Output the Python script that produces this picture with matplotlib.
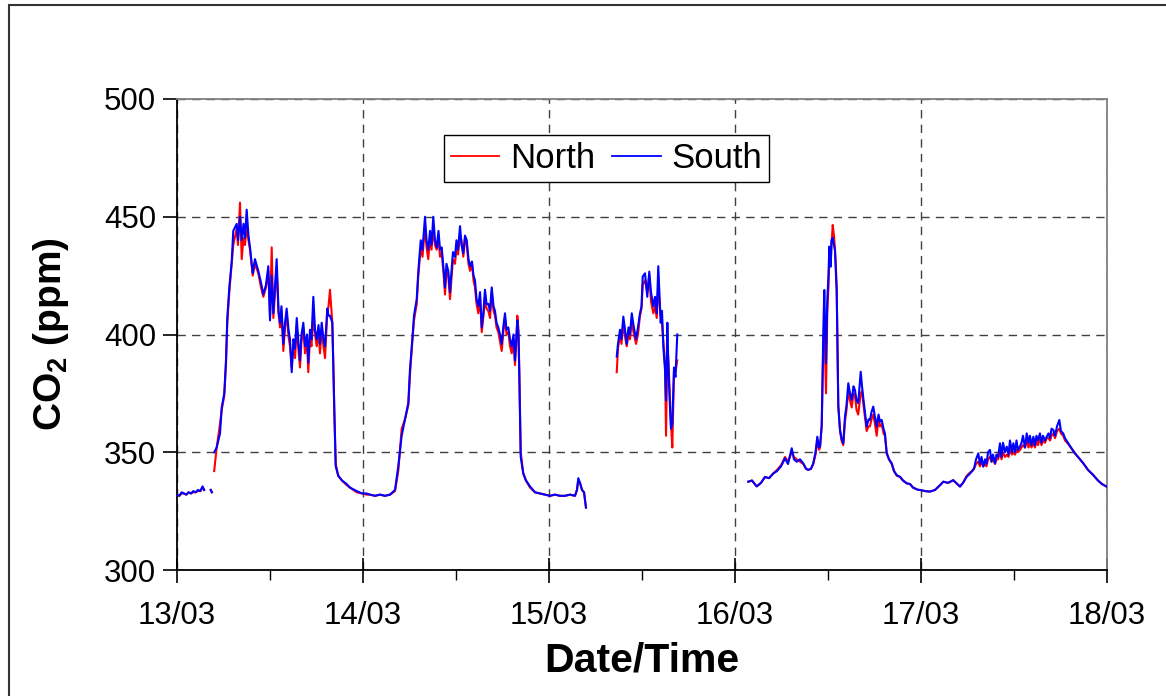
import numpy as np
import matplotlib
matplotlib.use("Agg")
import matplotlib.pyplot as plt
from matplotlib.patches import Rectangle
from matplotlib.ticker import MultipleLocator

nan = float("nan")

# time in hours since 13/03 00:00
hours = [
    0.0, 0.3, 0.6, 0.9, 1.2, 1.5, 1.8, 2.1, 2.4, 2.7,
    3.0, 3.3, 3.5, 3.6, 4.35, 4.5, 4.6, 4.8, 5.12, 5.55,
    5.77, 6.1, 6.32, 6.49, 6.75, 7.06, 7.26, 7.7, 7.87, 8.13,
    8.35, 8.58, 8.77, 8.99, 9.22, 9.42, 9.77, 10.06, 10.49, 10.84,
    11.14, 11.48, 11.78, 12.0, 12.22, 12.43, 12.86, 13.1, 13.29, 13.48,
    13.72, 13.94, 14.15, 14.39, 14.58, 14.8, 15.03, 15.23, 15.45, 15.68,
    15.87, 16.06, 16.3, 16.52, 16.77, 16.94, 17.16, 17.35, 17.59, 17.81,
    18.03, 18.26, 18.45, 18.67, 18.9, 19.1, 19.39, 19.55, 19.74, 20.04,
    20.17, 20.3, 20.48, 20.81, 21.29, 21.9, 22.32, 23.19, 23.87, 24.48,
    24.9, 25.55, 26.19, 26.84, 27.48, 28.13, 28.55, 28.99, 29.42, 29.85,
    30.06, 30.41, 30.58, 30.93, 31.14, 31.45, 31.68, 32.0, 32.2, 32.42,
    32.65, 32.84, 33.07, 33.29, 33.51, 33.74, 33.94, 34.15, 34.39, 34.58,
    34.77, 35.0, 35.23, 35.42, 35.61, 35.87, 36.06, 36.26, 36.52, 36.71,
    36.94, 37.16, 37.39, 37.61, 37.81, 38.06, 38.26, 38.45, 38.65, 38.88,
    39.1, 39.32, 39.55, 39.74, 39.94, 40.17, 40.39, 40.61, 40.84, 41.03,
    41.23, 41.46, 41.68, 41.9, 42.13, 42.32, 42.52, 42.75, 42.97, 43.19,
    43.42, 43.61, 43.81, 43.91, 44.06, 44.17, 44.35, 44.68, 45.03, 45.55,
    46.19, 46.84, 47.48, 48.13, 48.77, 49.42, 50.06, 50.71, 51.35, 51.61,
    51.78, 52.0, 52.26, 52.52, 52.77, 53.0, 56.74, 56.9, 57.16, 57.35,
    57.59, 57.81, 58.03, 58.26, 58.45, 58.68, 58.9, 59.23, 59.48, 59.74,
    59.94, 60.09, 60.39, 60.68, 60.94, 61.16, 61.46, 61.68, 61.9, 62.1,
    62.41, 62.58, 62.75, 62.97, 63.1, 63.27, 63.42, 63.61, 63.74, 63.91,
    64.13, 64.32, 64.55, 64.7, 73.72, 74.19, 74.8, 75.35, 75.87, 76.39,
    76.94, 77.42, 77.94, 78.45, 78.84, 79.32, 79.61, 79.96, 80.39, 80.81,
    81.16, 81.45, 81.81, 82.1, 82.39, 82.62, 82.84, 82.97, 83.19, 83.39,
    83.52, 83.74, 83.91, 84.06, 84.17, 84.35, 84.45, 84.61, 84.77, 84.9,
    85.03, 85.12, 85.2, 85.33, 85.55, 85.74, 85.97, 86.19, 86.39, 86.62,
    86.84, 87.06, 87.29, 87.48, 87.68, 87.9, 88.22, 88.39, 88.58, 88.8,
    88.99, 89.23, 89.42, 89.61, 89.84, 90.06, 90.28, 90.52, 90.71, 90.93,
    91.16, 91.35, 91.57, 91.87, 92.22, 92.52, 92.87, 93.29, 93.68, 94.16,
    94.58, 94.97, 95.65, 95.87, 96.52, 97.16, 97.81, 98.45, 98.88, 99.48,
    100.16, 100.52, 101.03, 101.42, 101.9, 102.19, 102.55, 102.84, 103.1, 103.39,
    103.61, 103.81, 104.03, 104.26, 104.45, 104.65, 104.9, 105.1, 105.29, 105.55,
    105.74, 105.94, 106.19, 106.39, 106.58, 106.84, 107.06, 107.29, 107.48, 107.74,
    107.91, 108.13, 108.32, 108.52, 108.77, 108.97, 109.16, 109.42, 109.64, 109.87,
    110.06, 110.26, 110.5, 110.71, 110.9, 111.1, 111.35, 111.55, 111.74, 112.0,
    112.22, 112.45, 112.65, 112.84, 113.07, 113.29, 113.55, 113.85, 114.06, 114.35,
    114.58, 115.0, 115.35, 115.87, 116.39, 116.94, 117.55, 118.23, 118.84, 119.35,
    119.96,
]

south = [
    332, 331.5, 333, 332.5, 332, 333, 332.5, 333.5, 333, 334,
    333.5, 335.5, 334, nan, 334, 333, nan, 350, 352, 358,
    369, 375, 389, 407, 420, 431, 444, 447, 440, 450,
    440, 447, 441, 453, 442, 437, 426, 432, 427, 422,
    417, 421, 429, 406, 425, 409, 432, 410, 405, 412,
    396, 405, 411, 402, 398, 384, 398, 394, 407, 396,
    389, 400, 405, 395, 400, 388, 402, 398, 416, 402,
    398, 404, 396, 405, 398, 395, 411, 408, 408, 405,
    386, 367, 344, 340, 338, 336.5, 335, 333.5, 332.5, 332.5,
    332, 331.5, 332, 331.5, 332, 334, 344, 357, 364, 371,
    385, 400, 408, 415, 427, 440, 436, 450, 440, 436,
    444, 438, 450, 440, 437, 444, 436, 437, 428, 420,
    430, 427, 418, 427, 435, 433, 440, 436, 446, 438,
    434.5, 442, 440, 432, 429, 431, 425, 423, 415, 412,
    418, 403, 410, 419, 413, 413, 410, 420, 412, 410,
    405, 403, 400, 396, 404, 409, 402, 403, 398, 395,
    400, 389, 400, 406, 400, 382, 348, 341, 338, 335.5,
    333, 332.5, 332, 331.5, 332, 331.5, 331.5, 332, 331.5, 334,
    339, 337, 334, 333, 326.5, nan, 390.6, 396, 402, 398,
    407.6, 402, 396, 403, 400, 409, 404, 398, 403, 409,
    412, 424.6, 426, 416, 426.7, 418, 412, 416, 409, 429,
    405, 410, 395, 385, 372, 405, 385, 369, 360, 362,
    386, 382, 400, nan, 337.5, 338, 335.5, 337, 339.5, 339,
    341, 342, 344, 347.4, 345, 351.7, 347, 346, 347, 345.3,
    343, 342.5, 343, 345.3, 350, 356.6, 352, 352.4, 361.6, 400.5,
    418.9, 387.8, 414.6, 425, 437.3, 428.8, 440, 441, 438, 435.9,
    425, 418.9, 400.5, 369.4, 359.5, 356, 353.8, 365.1, 370, 379.3,
    375, 372.2, 378, 376.4, 372, 370.8, 384.2, 378, 372.2, 366,
    360.9, 364, 363.7, 367, 369.4, 365, 360.9, 366, 363, 363.7,
    360, 358, 349.5, 347, 345.3, 342, 340.3, 339.6, 338, 336.8,
    336.5, 335, 334, 334, 333.5, 333.3, 334, 336, 337.5, 337,
    338.2, 337, 335.4, 337, 339.6, 340.5, 341.8, 343, 347, 349.5,
    345, 348, 343.9, 347, 345, 350, 351, 346, 349, 345.3,
    349, 348, 353.8, 348, 354, 350, 352.4, 349, 355, 350,
    353.8, 350, 355, 351, 352.4, 354, 357, 352, 358, 354,
    357, 353, 356.6, 353, 357, 355, 358, 354, 357, 355,
    356.6, 358, 356, 360, 359.5, 357, 361, 363.7, 359, 358,
    356, 353.8, 352, 349.5, 347.5, 345.3, 342.5, 340.3, 338, 336.5,
    335.4,
]

north = [
    332, 331.5, 332.5, 332.5, 332, 333, 332.5, 333, 333, 333.5,
    333.5, 335, 334, nan, 334, 333, nan, 342, 352, 362,
    368, 374, 387, 405, 418, 430, 438, 445, 438, 456,
    432, 441, 438, 446, 440, 436, 425, 430, 426, 420,
    416, 420, 427, 408, 437, 407, 428, 409, 403, 410,
    393, 403, 409, 399, 395, 386, 396, 390, 404, 393,
    386, 397, 403, 392, 398, 384, 399, 395, 408, 400,
    395, 401, 392, 402, 395, 390, 409, 412, 419, 405,
    388, 368, 345, 340, 338, 336, 335, 333, 332.5, 332,
    332, 331.5, 332, 331.5, 332, 333.5, 342, 360, 364, 370,
    383, 399, 406, 413, 425, 437, 433, 446, 437, 432,
    441, 436, 445, 438, 436, 441, 433, 435, 426, 417,
    427, 425, 415, 424, 432, 430, 437, 434, 442, 440,
    433, 440, 438, 430, 427, 430, 423, 420, 413, 409,
    416, 401, 408, 416, 411, 410, 407, 418, 410, 408,
    403, 401, 397, 393, 402, 407, 400, 401, 395, 392,
    398, 387, 398, 408, 402, 385, 350, 341, 338, 335,
    333, 332.5, 332, 331.5, 332, 331.5, 331.5, 332, 331.5, 334,
    338, 337, 334, 333, 326.5, nan, 384, 394, 400, 396,
    405, 399, 395, 400, 398, 406, 401, 396, 400, 408,
    411, 421, 423, 418, 425, 414, 409, 412, 407, 420,
    408, 405, 397, 387, 357, 395, 388, 372, 362, 352,
    384, 384, 389, nan, 337.5, 338, 335.5, 337, 339.5, 339,
    341, 342.5, 344.5, 348, 346, 350, 348, 347, 346, 345,
    343, 342.5, 343, 345, 349, 355, 351, 352, 361, 395,
    405, 375, 410, 420, 433, 430, 438, 446.5, 442, 436,
    428, 420, 402, 370, 359, 355, 353, 363, 368, 376,
    372, 369, 375, 374, 368, 366, 375, 376, 370, 364,
    359, 361, 361, 364, 366, 362, 357, 364, 361, 362,
    358, 357, 350, 347, 345, 342, 340, 339.5, 338, 336.8,
    336.5, 335, 334, 334, 333.5, 333.3, 334, 336, 337.5, 337,
    338, 337, 335.5, 337, 340, 341, 342, 343, 345, 346,
    344, 346, 344, 345, 344, 347, 348, 346, 347, 345,
    347, 347, 350, 347, 350, 348, 349, 348, 351, 349,
    350, 349, 351, 350, 351, 352, 353, 352, 355, 352,
    354, 352, 354, 352, 355, 353, 356, 353, 355, 354,
    356, 356, 355, 357, 358, 356, 359, 360, 358, 357,
    355, 353.5, 352, 349.5, 347.5, 345.3, 342.5, 340.3, 338, 336.5,
    335.4,
]

day_labels = ["13/03", "14/03", "15/03", "16/03", "17/03", "18/03"]
series_names = ["North", "South"]

plt.rcParams["font.family"] = ["Liberation Sans", "DejaVu Sans"]
plt.rcParams["mathtext.fontset"] = "custom"
plt.rcParams["mathtext.rm"] = "Liberation Sans"
plt.rcParams["mathtext.bf"] = "Liberation Sans:bold"

fig = plt.figure(figsize=(11.66, 6.96), dpi=100)
fig.patch.set_facecolor("white")
# outer frame of the chart area
fig.patches.append(Rectangle((9 / 1166, -0.05), 1.2, 1 - 5 / 696 + 0.05,
                             transform=fig.transFigure, fill=False,
                             edgecolor="#333333", linewidth=1.5))

ax = fig.add_axes([177 / 1166, 1 - 570 / 696, 930 / 1166, 471 / 696])

h = np.array(hours, dtype=float)
n = np.array(north, dtype=float)
s = np.array(south, dtype=float)
ax.plot(h, n, color="#ff0000", lw=1.5, label=series_names[0], zorder=3)
ax.plot(h, s, color="#0000ff", lw=1.5, label=series_names[1], zorder=4)

ax.set_xlim(0, 120)
ax.set_ylim(300, 500)
ax.set_xticks(np.arange(0, 121, 24))
ax.set_xticklabels(day_labels)
ax.xaxis.set_minor_locator(MultipleLocator(12))
ax.set_yticks([300, 350, 400, 450, 500])

ax.tick_params(axis="x", which="major", direction="inout", length=18, width=1.2,
               pad=13, color="black")
ax.tick_params(axis="x", which="minor", direction="out", length=7, width=1, color="black")
ax.tick_params(axis="y", which="major", direction="out", length=10, width=1.2,
               pad=5, color="black")

for lab in ax.get_xticklabels() + ax.get_yticklabels():
    lab.set_fontsize(22.5)

ax.grid(True, which="major", axis="both", color="#404040", linestyle=(0, (6, 4.5)),
        linewidth=1.0)
ax.set_axisbelow(True)

ax.spines["left"].set_color("black")
ax.spines["bottom"].set_color("black")
ax.spines["left"].set_linewidth(1.3)
ax.spines["bottom"].set_linewidth(1.3)
ax.spines["top"].set_color("#808080")
ax.spines["right"].set_color("#808080")
ax.spines["top"].set_linewidth(1.3)
ax.spines["right"].set_linewidth(1.3)

ax.set_xlabel("Date/Time", fontsize=29.5, fontweight="bold", labelpad=8)
ax.set_ylabel(r"CO$_\mathbf{2}$ (ppm)", fontsize=28, fontweight="bold", labelpad=24)

leg = ax.legend(loc="upper left", bbox_to_anchor=(0.287, 0.9236), ncol=2,
                fontsize=25, frameon=True, fancybox=False, shadow=False,
                handlelength=1.4, handletextpad=0.3, columnspacing=0.5,
                borderpad=0.2, borderaxespad=0.0)
leg.get_frame().set_edgecolor("black")
leg.get_frame().set_linewidth(1.0)
leg.get_frame().set_alpha(1.0)
for line in leg.get_lines():
    line.set_linewidth(1.3)

fig.savefig("out.png", dpi=100, facecolor="white")
